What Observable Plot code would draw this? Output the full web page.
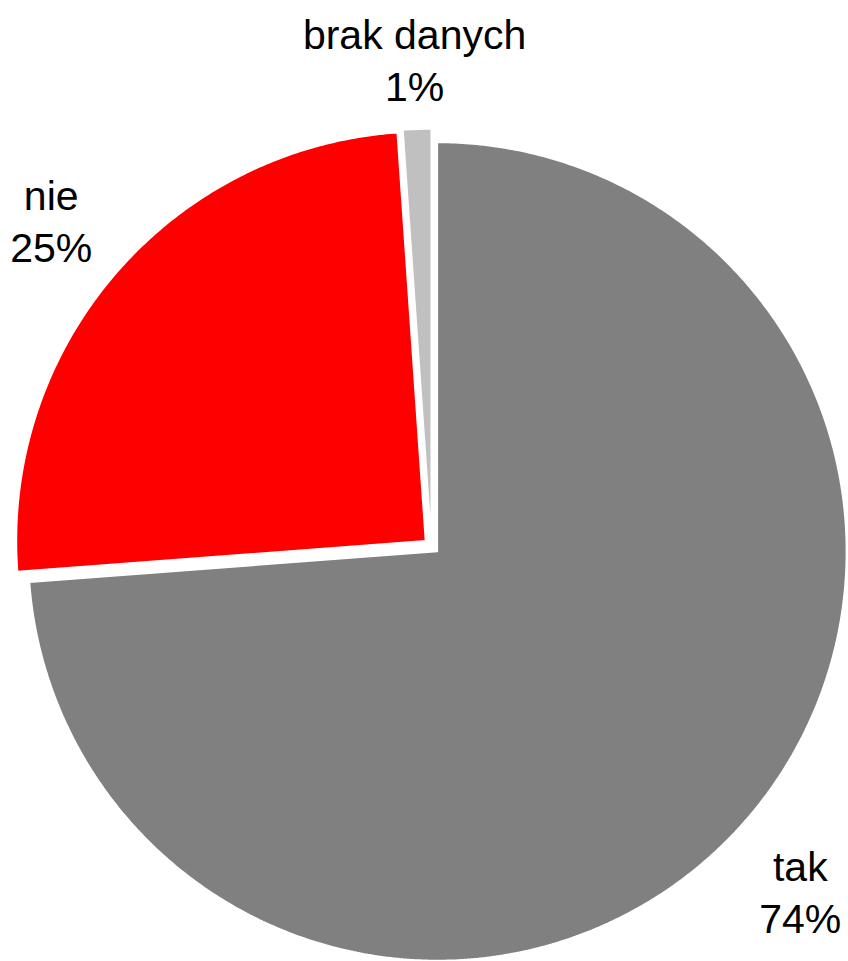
<!DOCTYPE html>
<html><head><meta charset="utf-8">
<script src="https://cdn.jsdelivr.net/npm/d3@7"></script>
<script src="https://cdn.jsdelivr.net/npm/@observablehq/plot@0.6"></script>
<style>html,body{margin:0;padding:0;background:#fff}</style>
</head><body><div id="chart"></div>
<script>
// Data
const categories = ["tak", "nie", "brak danych"];
const values = [73.8, 25.1, 1.1];
const colors = ["#808080", "#ff0000", "#c0c0c0"];

// Layout (pixels)
const W = 848, H = 961, R = 409, CX = 431, CY = 545.5, EXPLODE = 8, GAP = 28, FS = 41, LABEL_DY = 2;
const FONT = "'Liberation Sans', Arial, Helvetica, sans-serif";

const total = d3.sum(values);
let acc = 0;
const slices = categories.map((c, i) => {
  const a0 = acc / total * 2 * Math.PI;
  acc += values[i];
  const a1 = acc / total * 2 * Math.PI;
  return {cat: c, value: values[i], a0, a1, mid: (a0 + a1) / 2};
});

// polygon points in units of radius (y up), centred on the pie
const pts = [];
for (const s of slices) {
  const ox = Math.sin(s.mid) * EXPLODE / R, oy = Math.cos(s.mid) * EXPLODE / R;
  pts.push({cat: s.cat, x: ox, y: oy});
  const n = Math.max(4, Math.ceil((s.a1 - s.a0) / (Math.PI / 360)));
  for (let k = 0; k <= n; k++) {
    const a = s.a0 + (s.a1 - s.a0) * k / n;
    pts.push({cat: s.cat, x: ox + Math.sin(a), y: oy + Math.cos(a)});
  }
  pts.push({cat: s.cat, x: ox, y: oy});
}

// label placement
const ctx = document.createElement("canvas").getContext("2d");
ctx.font = `${FS}px ${FONT}`;
const labels = slices.map(s => {
  const lines = [s.cat, Math.round(s.value / total * 100) + "%"];
  const hw = d3.max(lines, l => ctx.measureText(l).width) / 2;
  const hh = FS;
  const dx = Math.sin(s.mid), dy = Math.cos(s.mid);
  const ext = Math.abs(dx) * hw + Math.abs(dy) * hh;
  const d = (R + EXPLODE + GAP + ext) / R;
  return {text: lines.join("\n"), x: dx * d, y: dy * d - LABEL_DY / R};
});

const chart = Plot.plot({
  width: W, height: H,
  margin: 0,
  x: {domain: [-CX / R, (W - CX) / R], range: [0, W], axis: null},
  y: {domain: [-(H - CY) / R, CY / R], range: [H, 0], axis: null},
  color: {domain: categories, range: colors},
  style: {fontFamily: FONT, background: "#fff"},
  marks: [
    Plot.line(pts, {x: "x", y: "y", z: "cat", fill: "cat", stroke: "white", strokeWidth: 1.5, curve: "linear", strokeLinejoin: "miter"}),
    Plot.text(labels, {x: "x", y: "y", text: "text", fontSize: FS, lineHeight: 1.27, lineAnchor: "middle", textAnchor: "middle", fill: "black", fontFamily: FONT})
  ]
});
document.getElementById("chart").appendChild(chart);
</script>
</body></html>
